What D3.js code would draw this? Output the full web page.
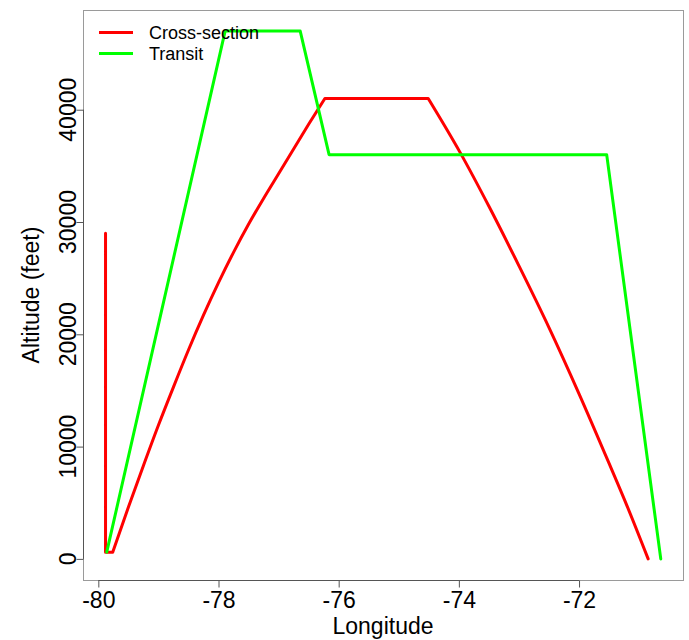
<!DOCTYPE html>
<html>
<head>
<meta charset="utf-8">
<script src="https://cdn.jsdelivr.net/npm/d3@7"></script>
<style>
  html, body { margin: 0; padding: 0; background: #fff; }
  svg { display: block; font-family: "Liberation Sans", Arial, Helvetica, sans-serif; }
</style>
</head>
<body>
<svg id="chart" width="689" height="640"></svg>
<script>
// ---- Data ----
// Cross-section: initial vertical drop, short ground run, climb, cruise, descent
const crossLon = [-79.88, -79.88, -79.76,
                  -79.5, -79.25, -79.0, -78.75, -78.5, -78.25, -78.0, -77.75, -77.5, -77.25, -77.0, -76.75, -76.5, -76.23,
                  -74.51,
                  -73.98, -73.5, -73.0, -72.5, -72.0, -71.5, -71.2, -70.85];
const crossAlt = [29000, 600, 600,
                  4600, 8300, 11900, 15300, 18600, 21700, 24600, 27300, 29800, 32100, 34300, 36500, 38700, 41000,
                  41000,
                  36200, 31400, 26100, 20600, 14700, 8500, 4700, 0];
// index ranges of the smooth (curved) parts of the Cross-section track
const crossClimb = [2, 16];
const crossDescent = [17, 25];

const transitLon = [-79.86, -77.89, -76.64, -76.16, -71.54, -70.64];
const transitAlt = [600, 47000, 47000, 36000, 36000, 0];

const xTicks = [-80, -78, -76, -74, -72];
const yTicks = [0, 10000, 20000, 30000, 40000];

const seriesNames = ["Cross-section", "Transit"];
const seriesColors = ["#ff0000", "#00ff00"];

// ---- Layout ----
const svg = d3.select("#chart");
const box = { left: 83, right: 683, top: 10, bottom: 580 };

const x = d3.scaleLinear().domain([-80.255, -70.27]).range([box.left, box.right]);
const y = d3.scaleLinear().domain([-1880, 48880]).range([box.bottom, box.top]);

// plot box
svg.append("rect")
  .attr("x", box.left + 0.5).attr("y", box.top + 0.5)
  .attr("width", box.right - box.left).attr("height", box.bottom - box.top)
  .attr("fill", "none").attr("stroke", "#9a9a9a").attr("stroke-width", 1);

// lines
const crossData = crossLon.map((v, i) => [v, crossAlt[i]]);
const transitData = transitLon.map((v, i) => [v, transitAlt[i]]);

const straight = d3.line().x(d => x(d[0])).y(d => y(d[1]));
const smooth = d3.line().x(d => x(d[0])).y(d => y(d[1])).curve(d3.curveMonotoneX);

// Build the cross-section path from straight and smooth pieces
const crossPath =
  straight(crossData.slice(0, crossClimb[0] + 1)) +
  smooth(crossData.slice(crossClimb[0], crossClimb[1] + 1)).replace(/^M/, "L") +
  straight(crossData.slice(crossClimb[1], crossDescent[0] + 1)).replace(/^M/, "L") +
  smooth(crossData.slice(crossDescent[0], crossDescent[1] + 1)).replace(/^M/, "L");

svg.append("path")
  .attr("d", crossPath)
  .attr("fill", "none").attr("stroke", seriesColors[0]).attr("stroke-width", 3)
  .attr("stroke-linejoin", "round").attr("stroke-linecap", "round");

svg.append("path").datum(transitData)
  .attr("d", straight)
  .attr("fill", "none").attr("stroke", seriesColors[1]).attr("stroke-width", 3)
  .attr("stroke-linejoin", "round").attr("stroke-linecap", "round");

// x axis
const xAxis = d3.axisBottom(x).tickValues(xTicks).tickSize(7).tickPadding(4)
  .tickFormat(d => String(d));
const gx = svg.append("g").attr("transform", `translate(0,${box.bottom + 0.5})`).call(xAxis);
gx.select(".domain").remove();
gx.selectAll(".tick line").attr("stroke", "#555");
gx.selectAll(".tick text").attr("font-size", 23).attr("fill", "#000")
  .attr("font-family", "Liberation Sans, Arial, sans-serif");
gx.append("line")
  .attr("x1", x(xTicks[0])).attr("x2", x(xTicks[xTicks.length - 1]))
  .attr("y1", 0).attr("y2", 0).attr("stroke", "#555");

// y axis
const yAxis = d3.axisLeft(y).tickValues(yTicks).tickSize(7).tickFormat(() => "");
const gy = svg.append("g").attr("transform", `translate(${box.left + 0.5},0)`).call(yAxis);
gy.select(".domain").remove();
gy.selectAll(".tick line").attr("stroke", "#555");
gy.append("line")
  .attr("y1", y(yTicks[0])).attr("y2", y(yTicks[yTicks.length - 1]))
  .attr("x1", 0).attr("x2", 0).attr("stroke", "#555");

svg.append("g").selectAll("text").data(yTicks).join("text")
  .attr("transform", d => `translate(76,${y(d)}) rotate(-90)`)
  .attr("text-anchor", "middle")
  .attr("font-size", 23)
  .text(d => String(d));

// axis titles
svg.append("text")
  .attr("x", (box.left + box.right) / 2).attr("y", 634)
  .attr("text-anchor", "middle").attr("font-size", 23)
  .text("Longitude");

svg.append("text")
  .attr("transform", `translate(39,${(box.top + box.bottom) / 2}) rotate(-90)`)
  .attr("text-anchor", "middle").attr("font-size", 23)
  .text("Altitude (feet)");

// legend
const legend = svg.append("g");
seriesNames.forEach((name, i) => {
  const ly = 32.5 + i * 21;
  legend.append("line")
    .attr("x1", 99).attr("x2", 133).attr("y1", ly).attr("y2", ly)
    .attr("stroke", seriesColors[i]).attr("stroke-width", 3);
  legend.append("text")
    .attr("x", 149).attr("y", ly).attr("dy", "0.35em")
    .attr("font-size", 18)
    .text(name);
});
</script>
</body>
</html>
